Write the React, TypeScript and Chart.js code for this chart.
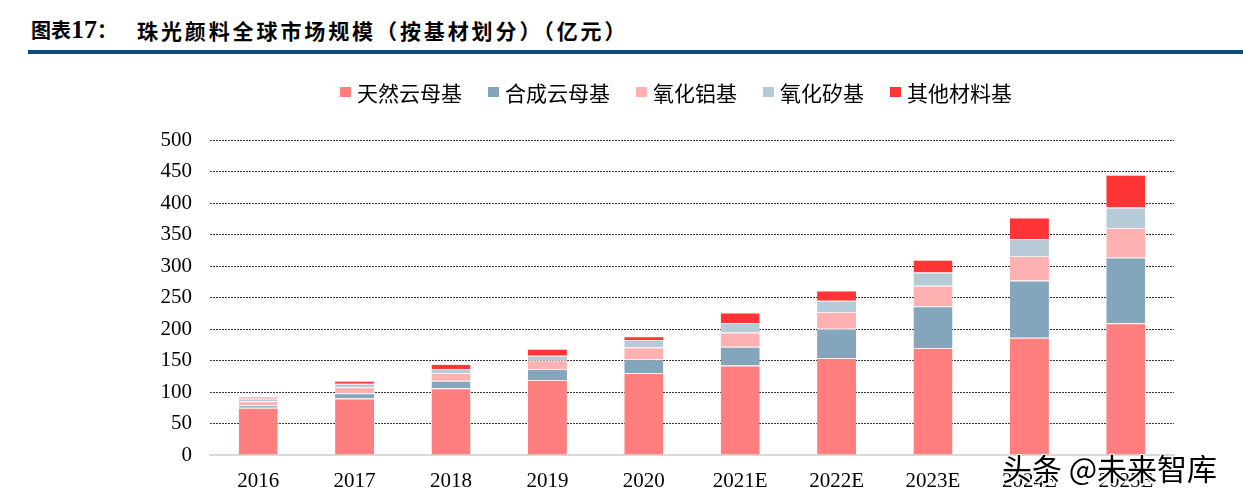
import React, { useEffect, useRef } from "react";
import { Chart, registerables } from "chart.js";

Chart.register(...registerables);

const categories = ["2016", "2017", "2018", "2019", "2020", "2021E", "2022E", "2023E", "2024E", "2025E"];
const naturalMica = [75, 89.5, 106, 119, 130, 142, 154, 170, 186, 209];
const syntheticMica = [4, 8.5, 12, 17.5, 22, 30, 46.5, 66, 91, 104.5];
const aluminaBase = [6.5, 9.5, 12, 14, 18.5, 22.5, 26.5, 32.5, 39, 47];
const silicaBase = [4, 5.5, 6.5, 7, 12, 15, 18, 21, 27, 32.5];
const otherBase = [3, 5, 8, 11, 6, 16.5, 16, 20.5, 34, 52];
const seriesNames = ["天然云母基", "合成云母基", "氧化铝基", "氧化矽基", "其他材料基"];
const seriesColors = ["#FF7F7F", "#84A6BD", "#FFB0B0", "#B7CAD8", "#FF3535"];
const yTicks = [0, 50, 100, 150, 200, 250, 300, 350, 400, 450, 500];

const CJK = '"Noto Sans CJK SC", "Noto Sans", sans-serif';
const SERIF = '"Liberation Serif", "DejaVu Serif", serif';

export default function App() {
  const canvasRef = useRef<HTMLCanvasElement | null>(null);

  useEffect(() => {
    const values = [naturalMica, syntheticMica, aluminaBase, silicaBase, otherBase];
    const chart = new Chart(canvasRef.current as HTMLCanvasElement, {
      type: "bar",
      data: {
        labels: categories,
        datasets: seriesNames.map((name, i) => ({
          label: name,
          data: values[i],
          backgroundColor: seriesColors[i],
          borderColor: "rgba(255,235,235,1)",
          borderWidth: { top: 1, bottom: 0, left: 0, right: 0 },
          borderSkipped: false,
          barPercentage: 0.405,
          categoryPercentage: 1,
        })),
      },
      options: {
        responsive: false,
        animation: false,
        maintainAspectRatio: false,
        layout: { padding: { top: 140, right: 69, bottom: 0, left: 0 } },
        plugins: { legend: { display: false }, title: { display: false }, tooltip: { enabled: false } },
        scales: {
          x: {
            stacked: true,
            grid: { display: false, drawTicks: false },
            border: { display: true, color: "#D9D9D9", width: 2 },
            ticks: { color: "#000", font: { family: SERIF, size: 21 }, padding: 14, maxRotation: 0 },
            afterFit: (scale: any) => { scale.height = 47; },
          },
          y: {
            stacked: true,
            min: 0,
            max: 500,
            afterBuildTicks: (scale: any) => { scale.ticks = yTicks.map((v) => ({ value: v })); },
            grid: {
              drawTicks: false,
              color: (ctx: any) => (ctx.tick && ctx.tick.value === 0 ? "rgba(0,0,0,0)" : "#3a3a3a"),
              lineWidth: 1,
            },
            border: { display: false, dash: [2, 1] },
            ticks: { color: "#000", font: { family: SERIF, size: 21 }, padding: 18 },
            afterFit: (scale: any) => { scale.width = 210; },
          },
        },
      },
    });
    return () => chart.destroy();
  }, []);

  return (
    <div style={{ position: "fixed", left: 0, top: 0, width: 1243, height: 502, background: "#fff", overflow: "hidden" }}>
      <div style={{ position: "absolute", left: 31, top: 16, height: 28, lineHeight: "28px", fontFamily: CJK, fontWeight: 700, fontSize: 20, color: "#000", whiteSpace: "nowrap" }}>
        图表<span style={{ fontFamily: SERIF, fontSize: 26, fontWeight: 700 }}>17</span>：
      </div>
      <div style={{ position: "absolute", left: 137, top: 16, height: 28, lineHeight: "28px", fontFamily: CJK, fontWeight: 700, fontSize: 21, letterSpacing: 2.9, color: "#000", whiteSpace: "nowrap" }}>
        珠光颜料全球市场规模（按基材划分）（亿元）
      </div>
      <div style={{ position: "absolute", left: 28, right: 0, top: 50, height: 4, background: "#0D4A80" }} />
      <canvas ref={canvasRef} width={1243} height={502} style={{ position: "absolute", left: 0, top: 0, width: 1243, height: 502 }} />
      <div style={{ position: "absolute", left: 340, top: 78, height: 28, display: "flex", alignItems: "center", whiteSpace: "nowrap" }}>
        {seriesNames.map((name, i) => (
          <div key={name} style={{ display: "flex", alignItems: "center", marginRight: i < seriesNames.length - 1 ? 26 : 0 }}>
            <span style={{ display: "inline-block", width: 11, height: 10, background: seriesColors[i], marginRight: 6 }} />
            <span style={{ fontFamily: CJK, fontSize: 21, lineHeight: "28px", color: "#000" }}>{name}</span>
          </div>
        ))}
      </div>
      <div style={{ position: "absolute", left: 1002, top: 450, fontFamily: CJK, fontSize: 30, lineHeight: "34px", color: "#000", whiteSpace: "nowrap", textShadow: "1px 1px 0 #fff, -1px -1px 0 #fff, 1px -1px 0 #fff, -1px 1px 0 #fff, 2px 2px 1px #fff" }}>
        头条 @未来智库
      </div>
    </div>
  );
}
